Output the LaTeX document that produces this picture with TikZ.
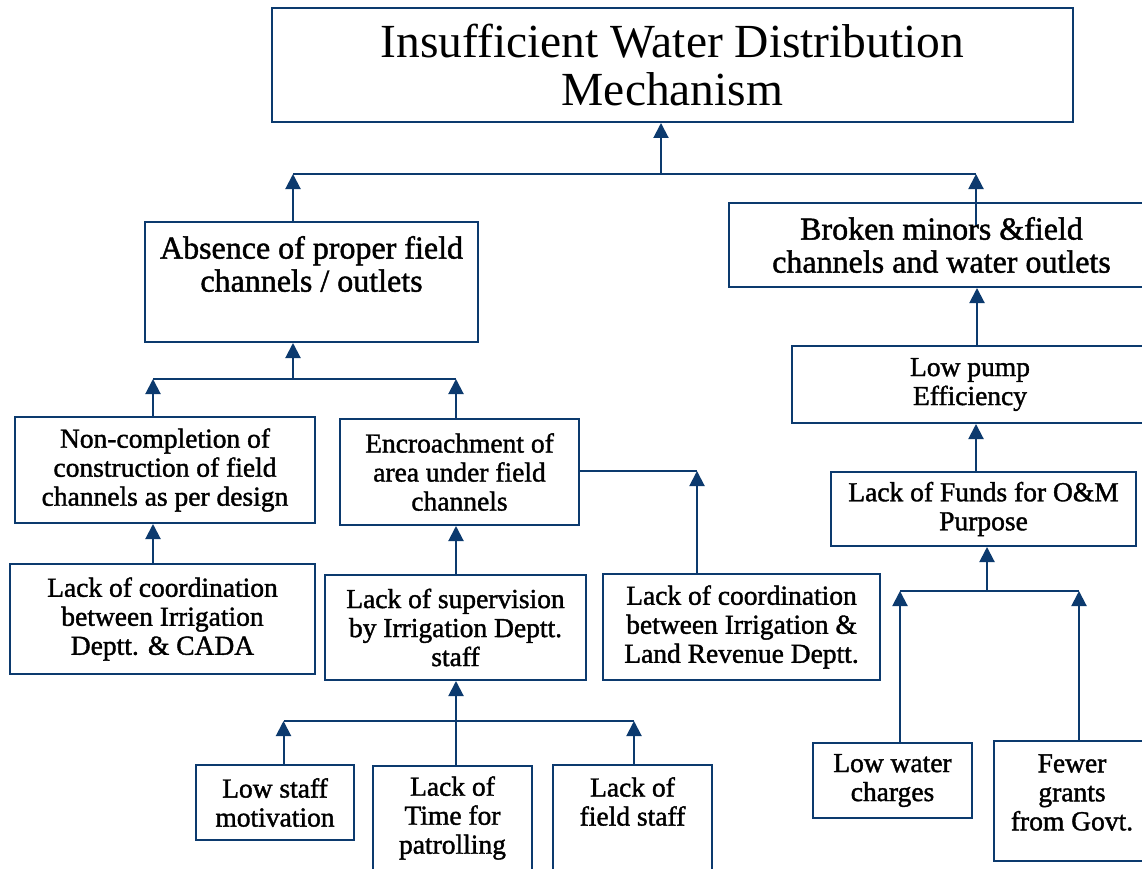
\documentclass[tikz,border=0pt]{standalone}
\usepackage{fontspec}
\setmainfont{Liberation Serif}
\newfontfamily\boxfont[FakeBold=1.4]{Liberation Serif}
\usetikzlibrary{arrows.meta}
\definecolor{ln}{RGB}{12,58,110}
\tikzset{
  box/.style={draw=ln, line width=2pt, inner sep=0pt, align=center, text=black},
  conn/.style={draw=ln, line width=2pt},
  arr/.style={conn, -{Triangle[width=15pt,length=15pt]}},
  small/.style={font=\boxfont\fontsize{27.5}{29}\selectfont},
  mid/.style={font=\boxfont\fontsize{32}{33}\selectfont},
  big/.style={font=\fontsize{47.5}{48}\selectfont},
  txt/.style={align=center, text=black, inner sep=0pt}
}
\begin{document}
\begin{tikzpicture}[x=1pt,y=-1pt]
\useasboundingbox[fill=white] (0,0) rectangle (1142,869);
% boxes
\node[box,big,minimum width=801pt,minimum height=114pt] (title) at (672.5,65) {Insufficient Water Distribution\\Mechanism};
\node[box,minimum width=333pt,minimum height=120pt] (abs) at (311.5,282) {};
\node[txt,mid] (abs-t) at (311.5,264) {Absence of proper field\\channels / outlets};
\node[box,mid,minimum width=425pt,minimum height=84pt] (brk) at (941.5,245) {Broken minors \&field\\channels and water outlets};
\node[box,small,minimum width=356pt,minimum height=77pt] (pump) at (970,384.5) {Low pump\\Efficiency};
\node[box,small,minimum width=305pt,minimum height=74pt] (fund) at (983.5,509) {Lack of Funds for O\&M\\Purpose};
\node[box,small,minimum width=159pt,minimum height=75pt] (lw) at (892.5,780.5) {Low water\\charges};
\node[box,minimum width=156pt,minimum height=120pt] (few) at (1072,801) {};
\node[txt,small] (few-t) at (1072,792.5) {Fewer\\grants\\from Govt.};
\node[box,small,minimum width=300pt,minimum height=106pt] (nc) at (165,470) {Non-completion of\\construction of field\\channels as per design};
\node[box,small,minimum width=239pt,minimum height=106pt] (enc) at (459.5,472) {Encroachment of\\area under field\\channels};
\node[box,small,minimum width=305pt,minimum height=110pt] (lc1) at (162.5,619) {Lack of coordination\\between Irrigation\\Deptt. \& CADA};
\node[box,small,minimum width=261pt,minimum height=105pt] (sup) at (455.5,627.5) {Lack of supervision\\by Irrigation Deptt.\\staff};
\node[box,small,minimum width=277pt,minimum height=106pt] (lc2) at (741.5,627) {Lack of coordination\\between Irrigation \&\\Land Revenue Deptt.};
\node[box,small,minimum width=158pt,minimum height=75pt] (ls) at (275,802.5) {Low staff\\motivation};
\node[box,minimum width=159pt,minimum height=119pt] (lot) at (452.5,825.5) {};
\node[txt,small] (lot-t) at (452.5,818) {Lack of\\Time for\\patrolling};
\node[box,minimum width=159pt,minimum height=120pt] (fs) at (632.5,825) {};
\node[txt,small] (fs-t) at (632.5,801.5) {Lack of\\field staff};
% bus coordinates
\coordinate (b1L) at (293,174);
\coordinate (b1M) at (661,174);
\coordinate (b1R) at (976,174);
\coordinate (brkin) at (976,225);
\coordinate (b2L) at (153,379);
\coordinate (b2M) at (293,379);
\coordinate (b2R) at (456,379);
\coordinate (b3L) at (283.5,721);
\coordinate (b3R) at (634,721);
\coordinate (b4L) at (900,591);
\coordinate (b4M) at (987,591);
\coordinate (b4R) at (1079,591);
\coordinate (cenc) at (697,471);
% top level
\draw[conn] (b1L) -- (b1R);
\draw[arr] (b1M) -- (b1M |- title.south);
\draw[arr] (abs.north -| b1L) -- (b1L);
\draw[arr] (brkin) -- (b1R);
% right chain
\draw[arr] (pump.north -| 977,0) -- (brk.south -| 977,0);
\draw[arr] (fund.north -| b1R) -- (pump.south -| b1R);
\draw[conn] (b4L) -- (b4R);
\draw[arr] (b4M) -- (fund.south -| b4M);
\draw[arr] (lw.north -| b4L) -- (b4L);
\draw[arr] (few.north -| b4R) -- (b4R);
% left chain
\draw[conn] (b2L) -- (b2R);
\draw[arr] (b2M) -- (abs.south -| b2M);
\draw[arr] (nc.north -| b2L) -- (b2L);
\draw[arr] (enc.north -| b2R) -- (b2R);
\draw[arr] (lc1.north -| b2L) -- (nc.south -| b2L);
\draw[arr] (sup.north -| b2R) -- (enc.south -| b2R);
\draw[conn] (enc.east |- cenc) -- (cenc);
\draw[arr] (lc2.north -| cenc) -- (cenc);
% bottom
\draw[conn] (b3L) -- (b3R);
\draw[arr] (lot.north -| b2R) -- (sup.south -| b2R);
\draw[arr] (ls.north -| b3L) -- (b3L);
\draw[arr] (fs.north -| b3R) -- (b3R);
\end{tikzpicture}
\end{document}
